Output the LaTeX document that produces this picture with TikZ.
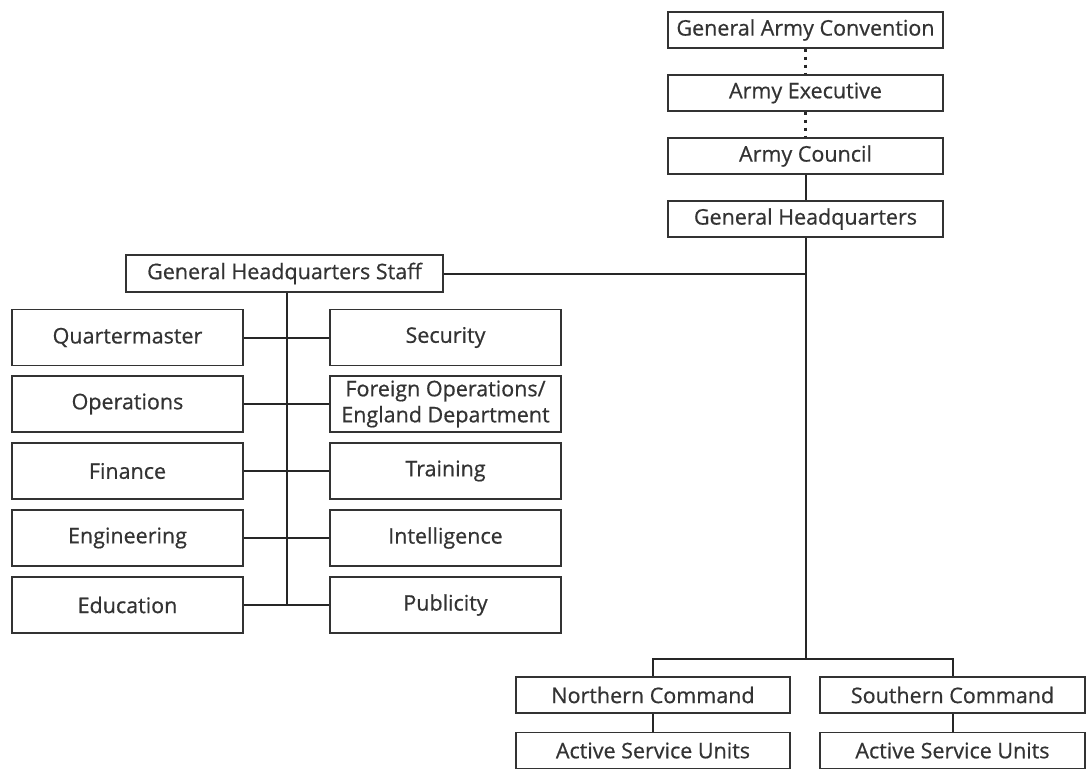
\documentclass[tikz,border=0pt]{standalone}
\usepackage{fontspec}
\setmainfont{Open Sans}[FakeBold=0.6]
\begin{document}
\begin{tikzpicture}[x=1pt,y=-1pt,
  box/.style={draw=black!80, line width=1.3pt, fill=white, align=center,
    inner sep=0pt, font=\fontsize{21.5}{26}\selectfont, text=black!80},
  wide/.style={box, minimum width=275pt, minimum height=36pt},
  dept/.style={box, minimum width=231pt, minimum height=56pt},
  cmd/.style={box, minimum height=36pt},
  link/.style={draw=black!85, line width=2pt},
  dotlink/.style={draw=black!85, line width=2.2pt, dash pattern=on 3pt off 5pt}]
\useasboundingbox (0,0) rectangle (1090,772);

% top chain of command
\node[wide] (gac)  at (805.5,30)  {General Army Convention};
\node[wide] (ae)   at (805.5,93)  {Army Executive};
\node[wide] (ac)   at (805.5,156) {Army Council};
\node[wide] (ghq)  at (805.5,219) {General Headquarters};

% staff and departments
\node[box, minimum width=317pt, minimum height=37pt] (staff) at (284.5,273.5) {General Headquarters Staff};

\node[dept] (qm)   at (127.5,337.5) {Quartermaster};
\node[dept] (ops)  at (127.5,404)   {Operations};
\node[dept] (fin)  at (127.5,471)   {Finance};
\node[dept] (eng)  at (127.5,538)   {Engineering};
\node[dept] (edu)  at (127.5,605)   {Education};
\node[dept] (sec)  at (445.5,337.5) {Security};
\node[dept] (fops) at (445.5,404)   {Foreign Operations/\\England Department};
\node[dept] (trn)  at (445.5,471)   {Training};
\node[dept] (int)  at (445.5,538)   {Intelligence};
\node[dept] (pub)  at (445.5,605)   {Publicity};

% commands
\node[cmd, minimum width=274pt] (north) at (653,695)   {Northern Command};
\node[cmd, minimum width=274pt] (asun)  at (653,750.5) {Active Service Units};
\node[cmd, minimum width=265pt] (south) at (952.5,695)   {Southern Command};
\node[cmd, minimum width=265pt] (asus)  at (952.5,750.5) {Active Service Units};

% junction points
\coordinate (trunk) at (286.5,0);
\coordinate (bar) at (0,659);

% connectors
\draw[dotlink] (gac.south) -- (ae.north);
\draw[dotlink] (ae.south) -- (ac.north);
\draw[link] (ac.south) -- (ghq.north);
\draw[link] (ghq.south) -- (ghq.south |- bar);
\draw[link] (staff.east) -- (staff.east -| ghq.south);
\draw[link] (staff.south -| trunk) -- (edu.east -| trunk);
\foreach \l/\r in {qm/sec, ops/fops, fin/trn, eng/int, edu/pub}
  \draw[link] (\l.east) -- (\r.west);
\draw[link] (north.north) -- (north.north |- bar) -- (south.north |- bar) -- (south.north);
\draw[link] (north.south) -- (asun.north);
\draw[link] (south.south) -- (asus.north);
\end{tikzpicture}
\end{document}
